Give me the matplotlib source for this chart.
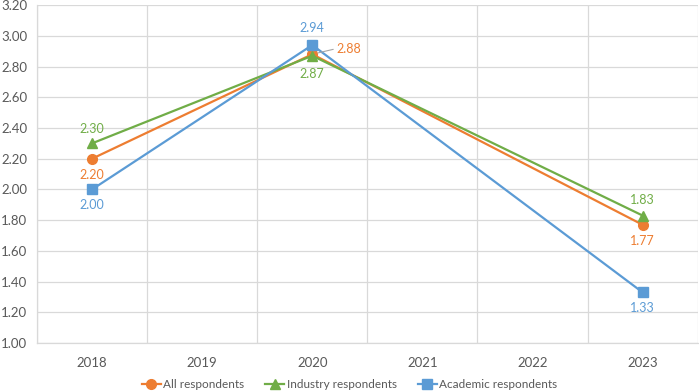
import matplotlib
matplotlib.use("Agg")
import matplotlib.pyplot as plt
import numpy as np

plt.rcParams['font.family'] = ['Lato', 'DejaVu Sans']

categories = ["2018", "2019", "2020", "2021", "2022", "2023"]
data_idx = [0, 2, 5]
all_resp = [2.20, 2.88, 1.77]
industry = [2.30, 2.87, 1.83]
academic = [2.00, 2.94, 1.33]

c_all = "#ED7D31"
c_ind = "#70AD47"
c_aca = "#5B9BD5"

fig = plt.figure(figsize=(6.99, 3.92), dpi=100)
ax = fig.add_axes([0.053, 0.125, 0.945, 0.862])

ax.plot(data_idx, all_resp, color=c_all, lw=1.6, marker='o', ms=7, label="All respondents", zorder=3)
ax.plot(data_idx, industry, color=c_ind, lw=1.6, marker='^', ms=7, label="Industry respondents", zorder=3)
ax.plot(data_idx, academic, color=c_aca, lw=1.6, marker='s', ms=6.5, label="Academic respondents", zorder=3)

fs = 9
def lab(x, y, txt, color, dx, dy):
    ax.annotate(txt, (x, y), xytext=(dx, dy), textcoords='offset points',
                ha='center', va='center', color=color, fontsize=fs)

# All respondents
lab(0, 2.20, "2.20", c_all, 0, -12)
ax.annotate("2.88", (2, 2.88), xytext=(26, 4), textcoords='offset points',
            ha='center', va='center', color=c_all, fontsize=fs,
            arrowprops=dict(arrowstyle='-', color='#A6A6A6', lw=0.8,
                            shrinkA=0, shrinkB=4, relpos=(0, 0.5)))
lab(5, 1.77, "1.77", c_all, 0, -12)
# Industry
lab(0, 2.30, "2.30", c_ind, 0, 10)
lab(2, 2.87, "2.87", c_ind, 0, -13)
lab(5, 1.83, "1.83", c_ind, 0, 11)
# Academic
lab(0, 2.00, "2.00", c_aca, 0, -11)
lab(2, 2.94, "2.94", c_aca, 0, 12)
lab(5, 1.33, "1.33", c_aca, 0, -11)

ax.set_xlim(-0.5, 5.5)
ax.set_ylim(1.0, 3.2)
ax.set_xticks(range(len(categories)))
ax.set_xticklabels(categories)
yt = np.arange(1.0, 3.21, 0.2)
ax.set_yticks(yt)
ax.set_yticklabels([f"{v:.2f}" for v in yt])
ax.set_xticks(np.arange(-0.5, 5.6, 1), minor=True)

ax.grid(True, which='major', axis='y', color='#D9D9D9', lw=0.9)
ax.grid(True, which='minor', axis='x', color='#D9D9D9', lw=0.9)
ax.grid(False, which='major', axis='x')
ax.set_axisbelow(True)
for s in ax.spines.values():
    s.set_color('#D9D9D9')
    s.set_linewidth(0.9)
ax.spines['top'].set_visible(False)
ax.spines['right'].set_visible(False)
ax.tick_params(which='both', length=0, labelsize=9.5, colors='#595959')
ax.tick_params(axis='x', pad=10)
ax.tick_params(axis='y', pad=7)

fig.legend(loc='lower center', bbox_to_anchor=(0.5, -0.022), ncol=3, frameon=False,
           fontsize=8.5, handlelength=1.6, handletextpad=0.2, columnspacing=1.8,
           labelcolor='#595959')

fig.savefig("out.png", dpi=100)
